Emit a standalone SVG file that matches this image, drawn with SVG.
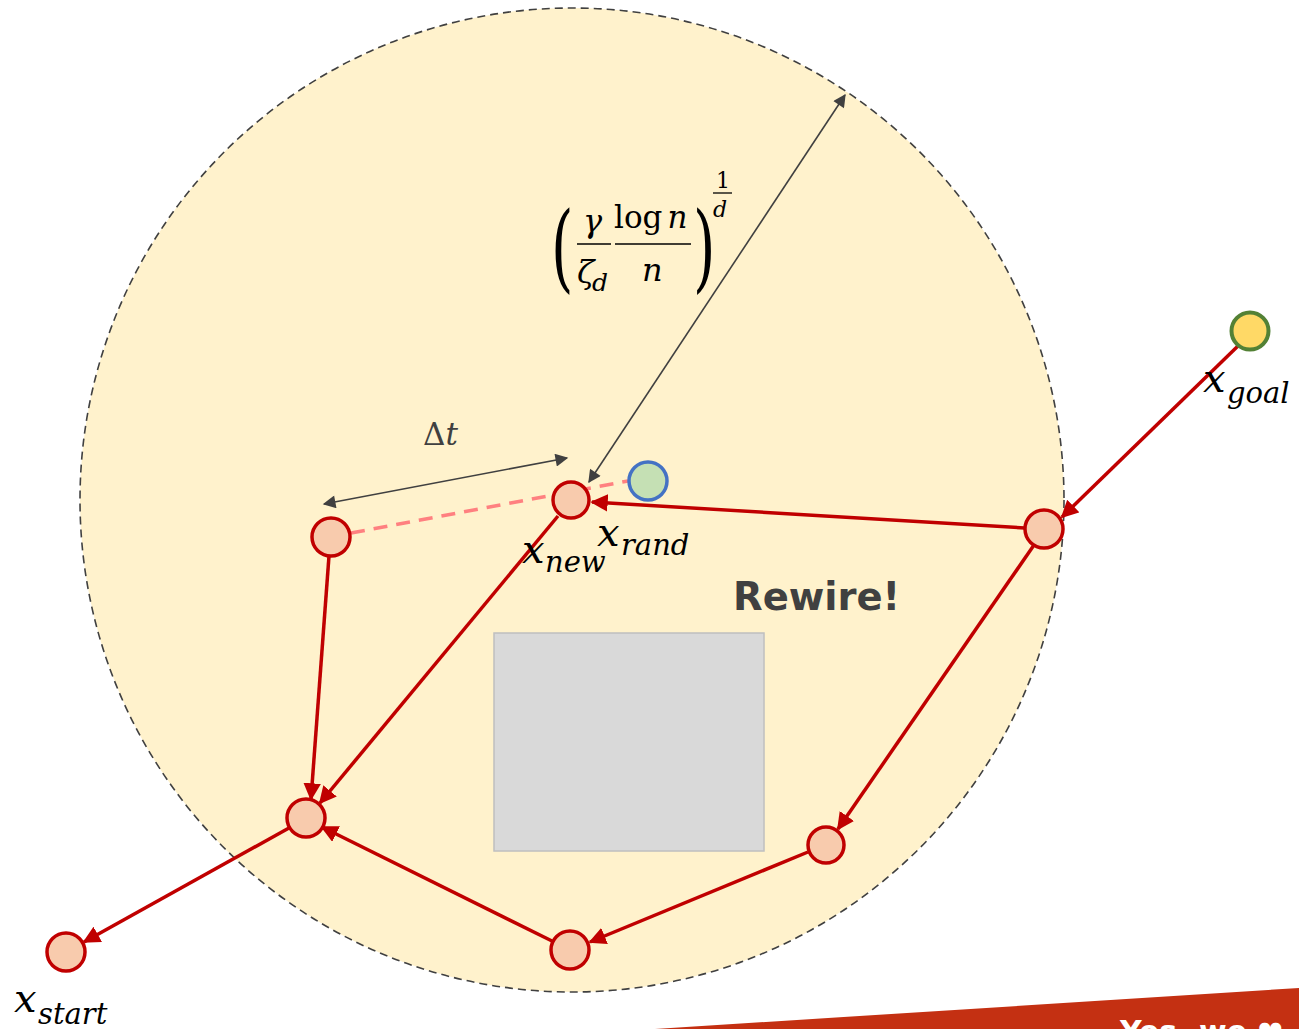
<svg xmlns="http://www.w3.org/2000/svg" width="1299" height="1029" viewBox="0 0 1299 1029">
<style>
.node{fill:#F8CBAD;stroke:#C00000;stroke-width:3.5}
.edge{stroke:#C00000;stroke-width:3.5;fill:none;marker-end:url(#ar)}
.dim{stroke:#404040;stroke-width:1.6;fill:none}
.m{font-family:"DejaVu Serif","Liberation Serif",serif;font-style:italic;fill:#000}
.mr{font-family:"DejaVu Serif","Liberation Serif",serif;fill:#000}
</style>
<defs>
<marker id="ar" viewBox="0 0 10 10" refX="9" refY="5" markerWidth="5" markerHeight="5" orient="auto" markerUnits="strokeWidth">
<path d="M0,0 L10,5 L0,10 z" fill="#C00000"/>
</marker>
<marker id="ga" viewBox="0 0 10 10" refX="9" refY="5" markerWidth="10" markerHeight="8" orient="auto-start-reverse" markerUnits="strokeWidth">
<path d="M0,0 L10,5 L0,10 z" fill="#404040"/>
</marker>
</defs>
<rect width="1299" height="1029" fill="#fff"/>
<g id="region">
<circle cx="572" cy="500" r="492" fill="#FFF2CC" stroke="#404040" stroke-width="1.6" stroke-dasharray="8 5"/>
</g>
<g id="obstacle">
<rect x="494" y="633" width="270" height="218" fill="#D9D9D9" stroke="#BFBFBF" stroke-width="1.5"/>
</g>
<g id="connectors">
<line x1="351" y1="533" x2="628" y2="481" stroke="#FF8080" stroke-width="3.5" stroke-dasharray="14 9"/>
<line class="edge" x1="1239" y1="345" x2="1062" y2="517"/>
<line class="edge" x1="1025" y1="528" x2="592" y2="502"/>
<line class="edge" x1="1034" y1="545" x2="838" y2="829"/>
<line class="edge" x1="808" y1="852" x2="590" y2="942"/>
<line class="edge" x1="552" y1="941" x2="322" y2="827"/>
<line class="edge" x1="329" y1="556" x2="311" y2="799"/>
<line class="edge" x1="558" y1="516" x2="320" y2="803"/>
<line class="edge" x1="289" y1="828" x2="84" y2="942"/>
<line class="dim" x1="324" y1="504" x2="567" y2="458" marker-start="url(#ga)" marker-end="url(#ga)"/>
<line class="dim" x1="845" y1="95" x2="589" y2="482" marker-start="url(#ga)" marker-end="url(#ga)"/>
</g>
<g id="n1"><circle class="node" cx="331" cy="537" r="19"/></g>
<g id="xnew"><circle class="node" cx="571" cy="500" r="18"/></g>
<g id="xrand"><circle cx="648" cy="481" r="19" fill="#C5E0B4" stroke="#4472C4" stroke-width="3.5"/></g>
<g id="n2"><circle class="node" cx="1044" cy="529" r="19"/></g>
<g id="n3"><circle class="node" cx="306" cy="818" r="19"/></g>
<g id="n4"><circle class="node" cx="570" cy="950" r="19"/></g>
<g id="n5"><circle class="node" cx="826" cy="845" r="18"/></g>
<g id="xstart"><circle class="node" cx="66" cy="952" r="19"/></g>
<g id="xgoal"><circle cx="1250" cy="331" r="18.5" fill="#FFD966" stroke="#538135" stroke-width="4"/></g>
<g id="labels">
<text class="m" x="1203" y="392" font-size="40">x</text><text class="m" x="1227" y="403" font-size="29">goal</text>
<text class="m" x="522" y="563" font-size="40">x</text><text class="m" x="545" y="572" font-size="29">new</text>
<text class="m" x="597" y="546" font-size="40">x</text><text class="m" x="621" y="555" font-size="29">rand</text>
<text class="m" x="14" y="1012" font-size="40">x</text><text class="m" x="38" y="1024" font-size="29">start</text>
<text x="423" y="445" font-size="31" font-family="DejaVu Serif,serif" fill="#404040">Δ<tspan font-style="italic">t</tspan></text>
<text x="733" y="610" font-size="38.5" font-weight="bold" font-family="DejaVu Sans,Verdana,sans-serif" fill="#404040">Rewire!</text>
</g>
<g id="formula">
<text class="mr" x="551" y="280" font-size="96" transform="translate(551 280) scale(0.6 1) translate(-551 -280)">(</text>
<text class="m" x="583" y="232" font-size="32">γ</text>
<line x1="577" y1="244" x2="611" y2="244" stroke="#000" stroke-width="1.5"/>
<text class="m" x="577" y="283" font-size="32">ζ</text><text class="m" x="592" y="291" font-size="25">d</text>
<text class="mr" x="614" y="228" font-size="31">log<tspan font-style="italic" dx="5">n</tspan></text>
<line x1="615" y1="244" x2="691" y2="244" stroke="#000" stroke-width="1.5"/>
<text class="m" x="642" y="281" font-size="32">n</text>
<text class="mr" x="693" y="280" font-size="96" transform="translate(693 280) scale(0.6 1) translate(-693 -280)">)</text>
<text class="mr" x="716" y="188" font-size="22">1</text>
<line x1="713" y1="193" x2="732" y2="193" stroke="#000" stroke-width="1.3"/>
<text class="m" x="713" y="217" font-size="22">d</text>
</g>
<g id="banner">
<polygon points="655,1029 1299,988 1299,1029" fill="#C43012"/>
<text x="1120" y="1042" font-size="30" font-weight="bold" font-family="DejaVu Sans,sans-serif" fill="#fff">Yes, we ❤</text>
</g>
</svg>
